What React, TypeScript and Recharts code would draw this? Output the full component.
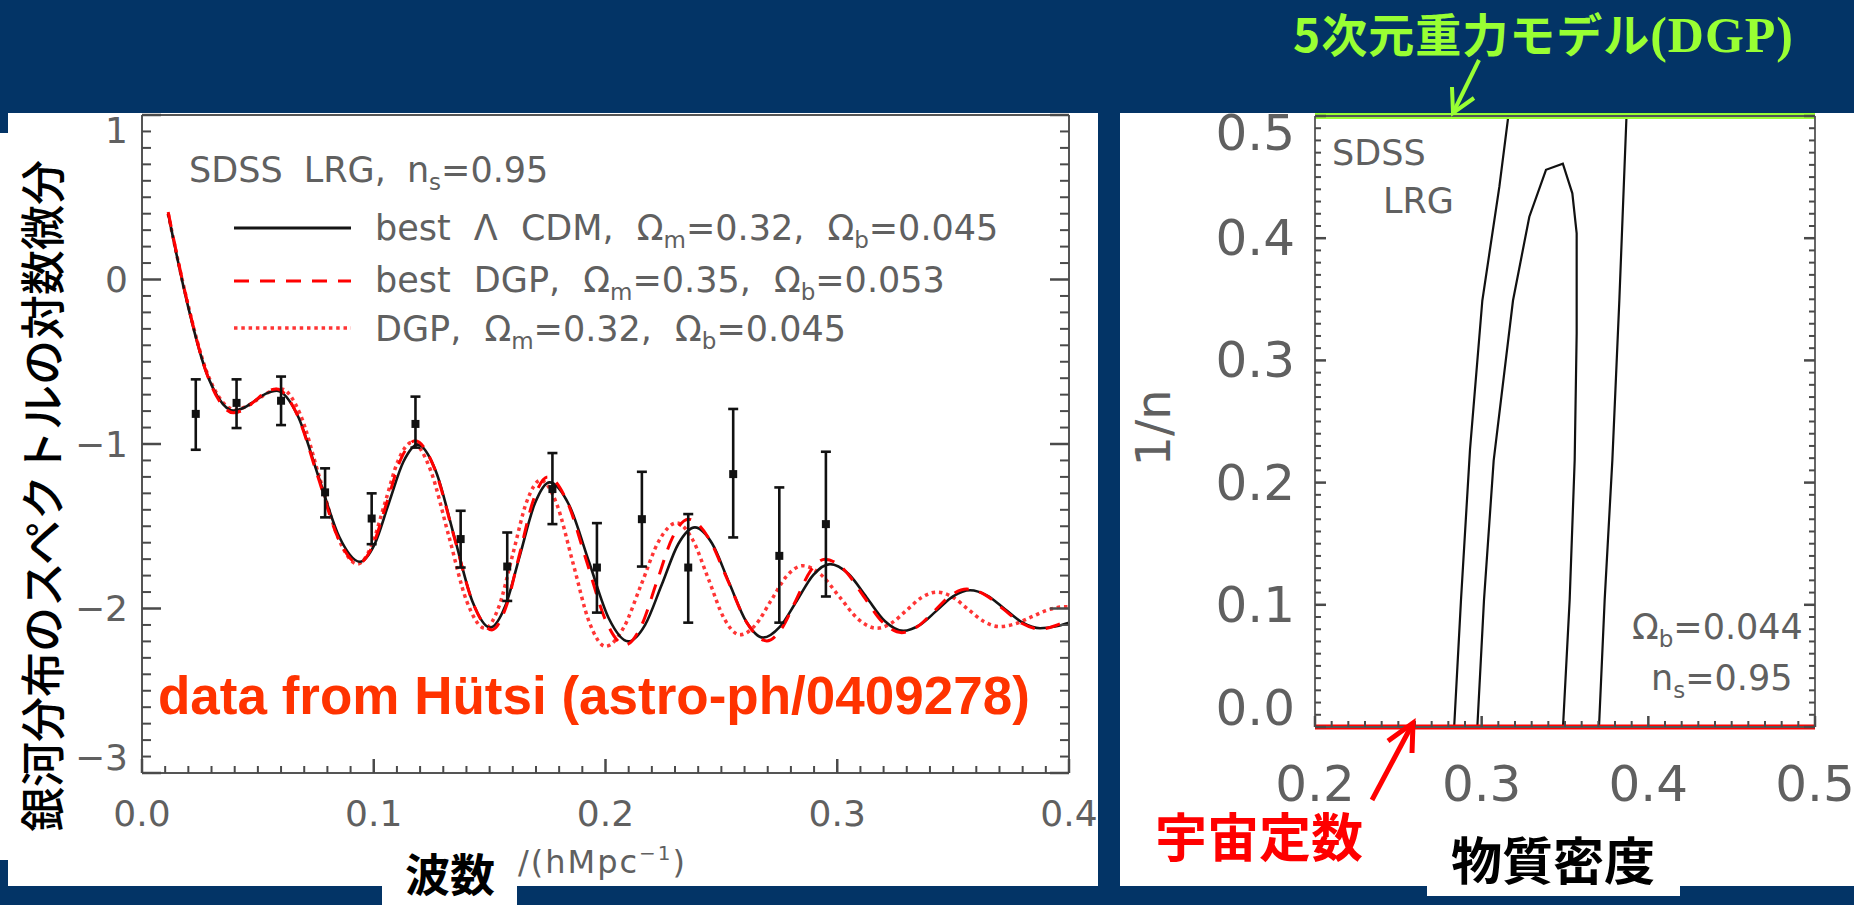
import {
  ComposedChart,
  ErrorBar,
  Line,
  ReferenceLine,
  Scatter,
  XAxis,
  YAxis,
} from 'recharts';

// ---- left panel: log-derivative of the galaxy power spectrum vs k ----
const lcdmK = [0.0113, 0.0193, 0.0279, 0.033, 0.0394, 0.044, 0.0488, 0.0535, 0.0582, 0.0672, 0.0761, 0.0851, 0.094, 0.1003, 0.1065, 0.1128, 0.119, 0.1268, 0.1347, 0.1425, 0.1503, 0.1567, 0.1631, 0.1695, 0.1759, 0.1844, 0.1929, 0.2014, 0.2099, 0.2171, 0.2243, 0.2314, 0.2386, 0.246, 0.2533, 0.2607, 0.268, 0.2752, 0.2825, 0.2897, 0.2969, 0.3048, 0.3127, 0.3206, 0.3285, 0.3357, 0.3429, 0.3501, 0.3573, 0.3649, 0.3724, 0.38, 0.3875, 0.394, 0.4];
const lcdmV = [0.4, -0.13, -0.57, -0.72, -0.797, -0.78, -0.737, -0.694, -0.676, -0.828, -1.196, -1.564, -1.716, -1.612, -1.36, -1.108, -1.004, -1.166, -1.56, -1.954, -2.116, -1.987, -1.675, -1.362, -1.233, -1.374, -1.717, -2.059, -2.2, -2.099, -1.854, -1.608, -1.507, -1.605, -1.842, -2.079, -2.177, -2.112, -1.954, -1.795, -1.73, -1.789, -1.933, -2.077, -2.136, -2.1, -2.013, -1.925, -1.889, -1.923, -2.005, -2.086, -2.12, -2.11, -2.086];

const dgpK = [0.0113, 0.0193, 0.0279, 0.033, 0.0394, 0.0441, 0.0487, 0.0534, 0.058, 0.0669, 0.0758, 0.0846, 0.0935, 0.0996, 0.1057, 0.1118, 0.1179, 0.1262, 0.1345, 0.1427, 0.151, 0.157, 0.163, 0.169, 0.175, 0.1834, 0.1918, 0.2001, 0.2085, 0.2153, 0.2221, 0.2289, 0.2357, 0.2442, 0.2527, 0.2611, 0.2696, 0.2759, 0.2822, 0.2884, 0.2947, 0.303, 0.3113, 0.3195, 0.3278, 0.3348, 0.3419, 0.3489, 0.3559, 0.3638, 0.3717, 0.3796, 0.3875, 0.394, 0.4];
const dgpV = [0.41, -0.12, -0.57, -0.73, -0.81, -0.789, -0.738, -0.686, -0.665, -0.82, -1.195, -1.57, -1.725, -1.616, -1.353, -1.089, -0.98, -1.148, -1.555, -1.962, -2.13, -1.994, -1.665, -1.336, -1.2, -1.349, -1.711, -2.073, -2.222, -2.11, -1.84, -1.569, -1.457, -1.565, -1.827, -2.089, -2.197, -2.124, -1.949, -1.773, -1.7, -1.765, -1.924, -2.082, -2.147, -2.108, -2.015, -1.921, -1.882, -1.917, -2.004, -2.09, -2.125, -2.105, -2.066];

const dgp32K = [0.0113, 0.0193, 0.0279, 0.033, 0.04, 0.045, 0.05, 0.055, 0.06, 0.0683, 0.0765, 0.0848, 0.093, 0.0989, 0.1048, 0.1106, 0.1165, 0.1244, 0.1323, 0.1401, 0.148, 0.154, 0.16, 0.166, 0.172, 0.179, 0.186, 0.193, 0.2, 0.2077, 0.2154, 0.223, 0.2307, 0.2375, 0.2444, 0.2512, 0.258, 0.2648, 0.2715, 0.2783, 0.285, 0.293, 0.301, 0.309, 0.317, 0.3235, 0.33, 0.3365, 0.343, 0.3498, 0.3565, 0.3633, 0.37, 0.377, 0.384, 0.391, 0.398, 0.4];
const dgp32V = [0.4, -0.12, -0.56, -0.71, -0.79, -0.772, -0.728, -0.683, -0.665, -0.82, -1.198, -1.575, -1.73, -1.622, -1.36, -1.098, -0.99, -1.155, -1.555, -1.955, -2.12, -1.989, -1.67, -1.351, -1.22, -1.367, -1.725, -2.083, -2.23, -2.12, -1.855, -1.59, -1.48, -1.579, -1.82, -2.061, -2.16, -2.099, -1.95, -1.801, -1.74, -1.795, -1.93, -2.064, -2.12, -2.088, -2.01, -1.932, -1.9, -1.931, -2.005, -2.079, -2.11, -2.092, -2.05, -2.008, -1.99, -1.99];

// Hütsi (astro-ph/0409278) points with error bar ends
const obsK = [0.0232, 0.0408, 0.06, 0.079, 0.0991, 0.118, 0.1375, 0.1576, 0.1771, 0.1963, 0.2157, 0.2357, 0.2551, 0.275, 0.2951];
const obsV = [-0.817, -0.75, -0.737, -1.294, -1.453, -0.878, -1.578, -1.745, -1.274, -1.751, -1.457, -1.751, -1.183, -1.68, -1.487];
const obsLo = [-1.035, -0.903, -0.885, -1.446, -1.609, -1.022, -1.751, -1.954, -1.487, -2.025, -1.745, -2.086, -1.568, -2.086, -1.927];
const obsHi = [-0.607, -0.607, -0.59, -1.148, -1.3, -0.712, -1.406, -1.538, -1.055, -1.481, -1.169, -1.426, -0.787, -1.264, -1.047];

const kMajor = [0, 0.1, 0.2, 0.3, 0.4];
const slopeMajor = [-3, -2, -1, 0, 1];

// ---- right panel: Omega_m vs 1/n contours ----
const outerLeftX = [0.2835, 0.2876, 0.293, 0.3004, 0.3106, 0.316];
const outerLeftY = [0, 0.104, 0.227, 0.349, 0.442, 0.5];
const outerRightX = [0.3704, 0.3738, 0.3784, 0.3826, 0.3869];
const outerRightY = [0, 0.104, 0.218, 0.349, 0.5];
const innerX = [0.2974, 0.3014, 0.3072, 0.3188, 0.3286, 0.3386, 0.3487, 0.3544, 0.357, 0.357, 0.3558, 0.3528, 0.3488];
const innerY = [0, 0.104, 0.218, 0.349, 0.4176, 0.456, 0.461, 0.4367, 0.404, 0.322, 0.218, 0.104, 0];

const omMajor = [0.2, 0.3, 0.4, 0.5];
const invNMajor = [0, 0.1, 0.2, 0.3, 0.4, 0.5];

const NAVY = '#033466';
const AX = '#555';
const TICK = '#4a4a4a';
const TXT = '#606060';
const GREEN = '#99ff33';

const pairs = (xs: number[], ys: number[]) => xs.map((x, i) => ({ k: x, v: ys[i] }));
const steps = (a: number, b: number, d: number) => {
  const out: number[] = [];
  for (let i = 0; a + i * d <= b + 1e-9; i++) out.push(Math.round((a + i * d) * 1000) / 1000);
  return out;
};

const lcdmData = pairs(lcdmK, lcdmV);
const dgpData = pairs(dgpK, dgpV);
const dgp32Data = pairs(dgp32K, dgp32V);
const obsData = obsK.map((k, i) => ({ k, v: obsV[i], err: [obsV[i] - obsLo[i], obsHi[i] - obsV[i]] }));

const outerLeft = pairs(outerLeftX, outerLeftY);
const outerRight = pairs(outerRightX, outerRightY);
const inner = pairs(innerX, innerY);

type Lab = { gap: number; size: number; fmt: (v: number) => string; shift?: (v: number) => number };

// IDL-style ticks: drawn inward from the axis line, minor ones shorter
function axisTick(side: 'top' | 'bottom' | 'left' | 'right', majors: number[], majLen: number, minLen: number, lab?: Lab) {
  return (p: any) => {
    const v = Number(p.payload.value);
    const major = majors.some((m) => Math.abs(m - v) < 1e-6);
    const len = major ? majLen : minLen;
    const horiz = side === 'top' || side === 'bottom';
    const dir = side === 'bottom' || side === 'right' ? -1 : 1;
    const x1 = Number(p.x);
    const y1 = Number(p.y);
    const x2 = horiz ? x1 : x1 + dir * len;
    const y2 = horiz ? y1 + dir * len : y1;
    let label = null;
    if (lab && major) {
      const s = lab.shift ? lab.shift(v) : 0;
      label =
        side === 'bottom' ? (
          <text x={x1} y={y1 + lab.gap} textAnchor="middle" dominantBaseline="central" fontSize={lab.size} fill={TXT} fontFamily="DejaVu Sans">
            {lab.fmt(v)}
          </text>
        ) : (
          <text x={x1 - lab.gap} y={y1 + s} textAnchor="end" dominantBaseline="central" fontSize={lab.size} fill={TXT} fontFamily="DejaVu Sans">
            {lab.fmt(v)}
          </text>
        );
    }
    return (
      <g>
        <line x1={x1} y1={y1} x2={x2} y2={y2} stroke={TICK} strokeWidth={major ? 2.5 : 2} />
        {label}
      </g>
    );
  };
}

const minus = (v: number) => (v < 0 ? '\u2212' + Math.abs(v) : String(v));

function SpectrumChart() {
  const kTicks = steps(0, 0.4, 0.01);
  const sTicks = steps(-3, 1, 0.1);
  const axisLine = { stroke: AX, strokeWidth: 2 };
  return (
    <ComposedChart width={1100} height={905} margin={{ top: 105, right: 11, bottom: 72, left: 82 }}>
      <XAxis xAxisId="b" orientation="bottom" type="number" dataKey="k" domain={[0, 0.4]} ticks={kTicks} interval={0}
        tickSize={0} tickMargin={0} height={60} axisLine={axisLine} tickLine={false} allowDataOverflow
        tick={axisTick('bottom', kMajor, 14, 7, { gap: 40, size: 36, fmt: (v) => v.toFixed(1) })} />
      <XAxis xAxisId="t" orientation="top" type="number" domain={[0, 0.4]} ticks={kTicks} interval={0}
        tickSize={0} tickMargin={0} height={10} axisLine={axisLine} tickLine={false} allowDataOverflow
        tick={axisTick('top', kMajor, 14, 7)} />
      <YAxis yAxisId="l" orientation="left" type="number" dataKey="v" domain={[-3, 1]} ticks={sTicks} interval={0}
        tickSize={0} tickMargin={0} width={60} axisLine={axisLine} tickLine={false} allowDataOverflow
        tick={axisTick('left', slopeMajor, 19, 9, { gap: 14, size: 36, fmt: minus, shift: (v) => (v === 1 ? 15 : v === -3 ? -16 : 0) })} />
      <YAxis yAxisId="r" orientation="right" type="number" domain={[-3, 1]} ticks={sTicks} interval={0}
        tickSize={0} tickMargin={0} width={20} axisLine={axisLine} tickLine={false} allowDataOverflow
        tick={axisTick('right', slopeMajor, 19, 9)} />
      <Line xAxisId="b" yAxisId="l" data={dgp32Data} dataKey="v" type="monotone" stroke="#ff3535" strokeWidth={3.5}
        strokeDasharray="3.5 3.8" dot={false} isAnimationActive={false} />
      <Line xAxisId="b" yAxisId="l" data={lcdmData} dataKey="v" type="monotone" stroke="#151515" strokeWidth={2.6}
        dot={false} isAnimationActive={false} />
      <Line xAxisId="b" yAxisId="l" data={dgpData} dataKey="v" type="monotone" stroke="#ff0000" strokeWidth={3}
        strokeDasharray="15 11" dot={false} isAnimationActive={false} />
      <Scatter xAxisId="b" yAxisId="l" data={obsData} dataKey="v" fill="#111" shape="square" isAnimationActive={false}>
        <ErrorBar dataKey="err" direction="y" width={5} stroke="#111" strokeWidth={2.6} />
      </Scatter>
    </ComposedChart>
  );
}

function ContourChart() {
  const xTicks = steps(0.2, 0.5, 0.01);
  const yTicks = steps(0, 0.5, 0.01);
  const axisLine = { stroke: AX, strokeWidth: 1.8 };
  return (
    <ComposedChart width={754} height={905} margin={{ top: 106, right: 19, bottom: 118, left: 155 }}>
      <XAxis xAxisId="b" orientation="bottom" type="number" dataKey="k" domain={[0.2, 0.5]} ticks={xTicks} interval={0}
        tickSize={0} tickMargin={0} height={60} axisLine={axisLine} tickLine={false} allowDataOverflow
        tick={axisTick('bottom', omMajor, 11, 6, { gap: 57, size: 50, fmt: (v) => v.toFixed(1) })} />
      <XAxis xAxisId="t" orientation="top" type="number" domain={[0.2, 0.5]} ticks={xTicks} interval={0}
        tickSize={0} tickMargin={0} height={10} axisLine={axisLine} tickLine={false} allowDataOverflow
        tick={axisTick('top', omMajor, 11, 6)} />
      <YAxis yAxisId="l" orientation="left" type="number" dataKey="v" domain={[0, 0.5]} ticks={yTicks} interval={0}
        tickSize={0} tickMargin={0} width={60} axisLine={axisLine} tickLine={false} allowDataOverflow
        tick={axisTick('left', invNMajor, 11, 6, { gap: 20, size: 50, fmt: (v) => v.toFixed(1), shift: (v) => (v === 0.5 ? 17 : v === 0 ? -19 : 0) })} />
      <YAxis yAxisId="r" orientation="right" type="number" domain={[0, 0.5]} ticks={yTicks} interval={0}
        tickSize={0} tickMargin={0} width={20} axisLine={axisLine} tickLine={false} allowDataOverflow
        tick={axisTick('right', invNMajor, 11, 6)} />
      <Line xAxisId="b" yAxisId="l" data={outerLeft} dataKey="v" type="linear" stroke="#111" strokeWidth={2.2} dot={false} isAnimationActive={false} />
      <Line xAxisId="b" yAxisId="l" data={outerRight} dataKey="v" type="linear" stroke="#111" strokeWidth={2.2} dot={false} isAnimationActive={false} />
      <Line xAxisId="b" yAxisId="l" data={inner} dataKey="v" type="linear" stroke="#111" strokeWidth={2.2} dot={false} isAnimationActive={false} />
      <ReferenceLine xAxisId="b" yAxisId="l" y={0.5} stroke={GREEN} strokeWidth={6} />
      <ReferenceLine xAxisId="b" yAxisId="l" y={0} stroke="#ff0000" strokeWidth={5} />
    </ComposedChart>
  );
}

const box = (left: number, top: number, width: number, height: number, bg: string) => (
  <div style={{ position: 'absolute', left, top, width, height, background: bg }} />
);

export default function App() {
  const grey = { fill: TXT, fontFamily: 'DejaVu Sans' };
  return (
    <div style={{ position: 'absolute', left: 0, top: 0, width: 1854, height: 905, background: NAVY, overflow: 'hidden' }}>
      {box(0, 113, 1098, 773, '#fff')}
      {box(0, 113, 8, 20, NAVY)}
      {box(0, 860, 8, 26, NAVY)}
      {box(382, 860, 135, 45, '#fff')}
      {box(1120, 113, 734, 773, '#fff')}
      {box(1427, 860, 253, 36, '#fff')}

      <div style={{ position: 'absolute', left: 0, top: 0 }}>
        <SpectrumChart />
      </div>
      <div style={{ position: 'absolute', left: 1100, top: 0 }}>
        <ContourChart />
      </div>

      <svg width={1854} height={905} style={{ position: 'absolute', left: 0, top: 0, pointerEvents: 'none' }}>
        {/* left panel annotations */}
        <text x={189} y={182} fontSize={35} {...grey} style={{ wordSpacing: 10 }}>
          SDSS LRG, n<tspan fontSize={23} dy={8}>s</tspan><tspan dy={-8}>=0.95</tspan>
        </text>
        <line x1={234} y1={228} x2={351} y2={228} stroke="#151515" strokeWidth={3} />
        <line x1={234} y1={281} x2={351} y2={281} stroke="#ff0000" strokeWidth={3} strokeDasharray="15 11" />
        <line x1={234} y1={328} x2={351} y2={328} stroke="#ff3535" strokeWidth={3.5} strokeDasharray="3.5 3.8" />
        <text x={375} y={240} fontSize={35} {...grey} style={{ wordSpacing: 12 }}>
          best Λ CDM, Ω<tspan fontSize={23} dy={8}>m</tspan><tspan dy={-8}>=0.32, Ω</tspan><tspan fontSize={23} dy={8}>b</tspan><tspan dy={-8}>=0.045</tspan>
        </text>
        <text x={375} y={292} fontSize={35} {...grey} style={{ wordSpacing: 12 }}>
          best DGP, Ω<tspan fontSize={23} dy={8}>m</tspan><tspan dy={-8}>=0.35, Ω</tspan><tspan fontSize={23} dy={8}>b</tspan><tspan dy={-8}>=0.053</tspan>
        </text>
        <text x={375} y={341} fontSize={35} {...grey} style={{ wordSpacing: 12 }}>
          DGP, Ω<tspan fontSize={23} dy={8}>m</tspan><tspan dy={-8}>=0.32, Ω</tspan><tspan fontSize={23} dy={8}>b</tspan><tspan dy={-8}>=0.045</tspan>
        </text>
        <text x={158} y={714} fontSize={53} fontWeight={700} fill="#ff3300" fontFamily="Liberation Sans">
          data from Hütsi (astro-ph/0409278)
        </text>
        <text transform="translate(40,496) rotate(-90)" textAnchor="middle" dominantBaseline="central" fontSize={45}
          fontWeight={500} fill="#000" fontFamily="Noto Sans CJK JP">
          銀河分布のスペクトルの対数微分
        </text>
        <text x={405} y={872} dominantBaseline="central" fontSize={45} fontWeight={700} fill="#000" fontFamily="Noto Sans CJK JP">
          波数
        </text>
        <text x={518} y={873} fontSize={32} {...grey} style={{ letterSpacing: 2 }}>
          /(hMpc<tspan fontSize={20} dy={-13}>−1</tspan><tspan dy={13}>)</tspan>
        </text>

        {/* right panel annotations */}
        <text x={1332} y={165} fontSize={35} {...grey}>SDSS</text>
        <text x={1383} y={213} fontSize={35} {...grey}>LRG</text>
        <text x={1632} y={639} fontSize={35} {...grey}>
          Ω<tspan fontSize={23} dy={8}>b</tspan><tspan dy={-8}>=0.044</tspan>
        </text>
        <text x={1651} y={690} fontSize={35} {...grey}>
          n<tspan fontSize={23} dy={8}>s</tspan><tspan dy={-8}>=0.95</tspan>
        </text>
        <text transform="translate(1153,428) rotate(-90)" textAnchor="middle" dominantBaseline="central" fontSize={48} {...grey}>
          1/n
        </text>

        {/* slide callouts */}
        <text x={1293} y={52} fontSize={46} fontWeight={700} fill={GREEN} fontFamily="Noto Sans CJK JP" style={{ letterSpacing: 1 }}>
          5次元重力モデル<tspan fontFamily="Liberation Serif" fontSize={50}>(DGP)</tspan>
        </text>
        <line x1={1479} y1={60} x2={1453} y2={113} stroke={GREEN} strokeWidth={4} />
        <polyline points="1452,87 1453,113 1474,98" fill="none" stroke={GREEN} strokeWidth={4} />
        <line x1={1372} y1={800} x2={1413} y2={723} stroke="#ff0000" strokeWidth={5} />
        <polyline points="1388,741 1413,723 1412,753" fill="none" stroke="#ff0000" strokeWidth={5} />
        <text x={1155} y={834} dominantBaseline="central" fontSize={52} fontWeight={700} fill="#ff0000" fontFamily="Noto Sans CJK JP">
          宇宙定数
        </text>
        <text x={1451} y={858} dominantBaseline="central" fontSize={51} fontWeight={700} fill="#000" fontFamily="Noto Sans CJK JP">
          物質密度
        </text>
      </svg>
    </div>
  );
}
